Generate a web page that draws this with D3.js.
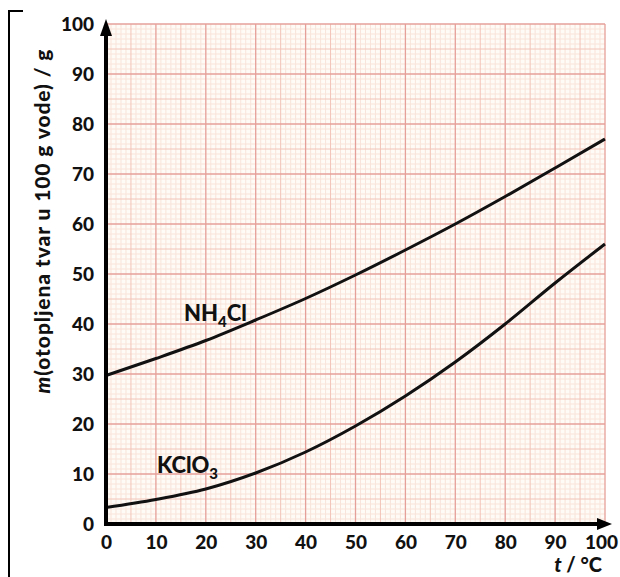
<!DOCTYPE html>
<html>
<head>
<meta charset="utf-8">
<script src="https://cdn.jsdelivr.net/npm/d3@7"></script>
<style>
  body { margin: 0; background: #fff; }
  svg { display: block; }
  text { font-family: Lato, "Open Sans", sans-serif; font-weight: 900; fill: #111; }
</style>
</head>
<body>
<svg id="canvas" width="620" height="577"></svg>
<script>
// temperature t / °C
var temps = [0, 10, 20, 30, 40, 50, 60, 70, 80, 90, 100];
// mass dissolved in 100 g water / g
var nh4cl = [29.7, 33.1, 36.7, 40.8, 45.1, 49.8, 54.8, 60.0, 65.5, 71.2, 77.0];
var kclo3 = [3.3, 4.9, 7.0, 10.2, 14.4, 19.6, 25.6, 32.4, 40.0, 48.2, 56.0];
var xTicks = [0, 10, 20, 30, 40, 50, 60, 70, 80, 90, 100];
var yTicks = [0, 10, 20, 30, 40, 50, 60, 70, 80, 90, 100];

var svg = d3.select("#canvas");

var xScale = d3.scaleLinear().domain([0, 100]).range([106, 605]);
var yScale = d3.scaleLinear().domain([0, 100]).range([524, 24]);

// graph paper
svg.append("rect")
	.attr("x", xScale(0)).attr("y", yScale(100))
	.attr("width", xScale(100) - xScale(0))
	.attr("height", yScale(0) - yScale(100))
	.attr("fill", "#fefaf5");

var minor = d3.range(0, 101, 1).filter(d => d % 5 != 0);
var mid = d3.range(5, 101, 10);
var major = d3.range(10, 101, 10);

function grid(vals, color, width) {
	var g = svg.append("g").attr("stroke", color).attr("stroke-width", width);
	g.selectAll(".v").data(vals).enter().append("line")
		.attr("x1", d => xScale(d)).attr("x2", d => xScale(d))
		.attr("y1", yScale(0)).attr("y2", yScale(100));
	g.selectAll(".h").data(vals).enter().append("line")
		.attr("x1", xScale(0)).attr("x2", xScale(100))
		.attr("y1", d => yScale(d)).attr("y2", d => yScale(d));
}
grid(minor, "#f8e4da", 1);
grid(mid, "#f2c4b8", 1);
grid(major, "#e6a09a", 1.3);

// curves
var line = d3.line()
	.x((d, i) => xScale(temps[i]))
	.y(d => yScale(d))
	.curve(d3.curveMonotoneX);

[nh4cl, kclo3].forEach(function (s) {
	svg.append("path").datum(s)
		.attr("d", line)
		.attr("fill", "none")
		.attr("stroke", "#111")
		.attr("stroke-width", 3);
});

// axes
var xAxis = d3.axisBottom(xScale).tickValues(xTicks).tickSize(0).tickPadding(12);
var yAxis = d3.axisLeft(yScale).tickValues(yTicks).tickSize(0).tickPadding(12);

var gx = svg.append("g").attr("transform", "translate(0," + yScale(0) + ")").call(xAxis);
var gy = svg.append("g").attr("transform", "translate(" + xScale(0) + ",0)").call(yAxis);
[gx, gy].forEach(function (g) {
	g.select(".domain").remove();
	g.selectAll("text").attr("font-size", 19).attr("font-family", "Lato, sans-serif")
		.attr("font-weight", 900).attr("fill", "#111");
});
gy.selectAll("text").attr("dy", "0.35em");
// keep the last x label inside the page
gx.selectAll("text").filter(d => d == 100).attr("dx", -4);

// axis lines with arrows
svg.append("line")
	.attr("x1", xScale(0)).attr("x2", xScale(0))
	.attr("y1", yScale(0) + 2).attr("y2", 32)
	.attr("stroke", "#000").attr("stroke-width", 4);
svg.append("path")
	.attr("d", "M" + xScale(0) + ",19 L" + (xScale(0) - 6) + ",36 L" + (xScale(0) + 6) + ",36 Z")
	.attr("fill", "#000");
svg.append("line")
	.attr("x1", xScale(0) - 2).attr("x2", 600)
	.attr("y1", yScale(0)).attr("y2", yScale(0))
	.attr("stroke", "#000").attr("stroke-width", 4);
svg.append("path")
	.attr("d", "M612," + yScale(0) + " L597," + (yScale(0) - 6) + " L597," + (yScale(0) + 6) + " Z")
	.attr("fill", "#000");

// axis titles
var yl = svg.append("text")
	.attr("transform", "translate(50,221) rotate(-90)")
	.attr("text-anchor", "middle")
	.attr("font-size", 21)
	.attr("letter-spacing", 0.9);
yl.append("tspan").attr("font-style", "italic").text("m");
yl.append("tspan").text("(otopljena tvar u 100 g vode) / g");

var xl = svg.append("text")
	.attr("x", 602).attr("y", 572)
	.attr("text-anchor", "end")
	.attr("font-size", 20);
xl.append("tspan").attr("font-style", "italic").text("t");
xl.append("tspan").text(" / °C");

// curve labels
var l1 = svg.append("text").attr("x", 184).attr("y", 321).attr("font-size", 22);
l1.append("tspan").text("NH");
l1.append("tspan").attr("font-size", 15).attr("dy", 6).text("4");
l1.append("tspan").attr("dy", -6).text("Cl");

var l2 = svg.append("text").attr("x", 157).attr("y", 473).attr("font-size", 22);
l2.append("tspan").text("KClO");
l2.append("tspan").attr("font-size", 15).attr("dy", 6).text("3");

// frame bracket
svg.append("path")
	.attr("d", "M9,577 V11 H23")
	.attr("fill", "none")
	.attr("stroke", "#000")
	.attr("stroke-width", 2);
</script>
</body>
</html>
